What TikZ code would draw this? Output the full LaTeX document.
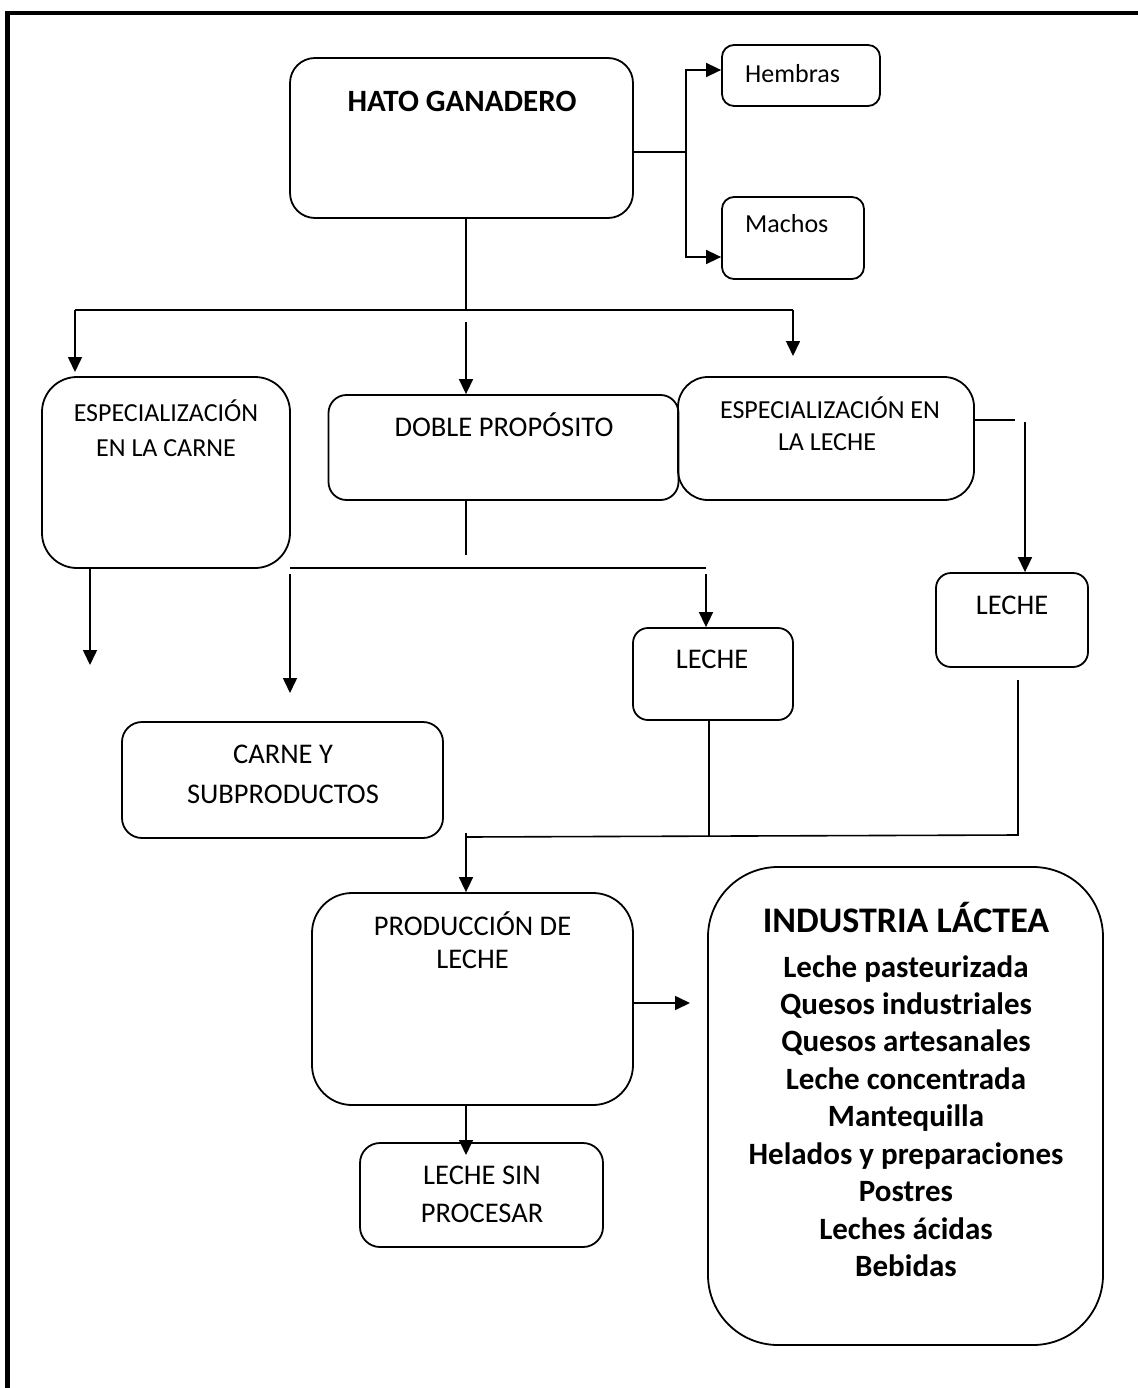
\documentclass[tikz,border=0pt]{standalone}
\usepackage{fontspec}
\setmainfont{Carlito}
\usetikzlibrary{arrows.meta,calc}
\begin{document}
\begin{tikzpicture}[x=1pt,y=-1pt,
  box/.style={draw,line width=1.8pt,inner sep=0pt},
  txt/.style={anchor=base,inner sep=0pt,font=\fontsize{26}{36}\selectfont},
  ltxt/.style={anchor=base,inner sep=0pt,font=\fontsize{28.5}{38}\selectfont},
  btxt/.style={anchor=base,inner sep=0pt,font=\fontsize{31}{37}\selectfont\bfseries},
  ln/.style={line width=1.6pt},
  arr/.style={line width=1.6pt,-{Triangle[length=15pt,width=14pt]}}]
\useasboundingbox (0,0) rectangle (1137,1388);
% frame
\draw[line width=4.5pt] (7.5,13) rectangle (1142,1390);

% boxes
\node[box,rounded corners=25pt,minimum width=343pt,minimum height=160pt] (hato) at (461.5,138) {};
\node[box,rounded corners=12pt,minimum width=158pt,minimum height=61pt] (hem) at (801,75.5) {};
\node[box,rounded corners=12pt,minimum width=142pt,minimum height=82pt] (mac) at (793,238) {};
\node[box,rounded corners=35pt,minimum width=248pt,minimum height=191pt] (ecar) at (166,472.5) {};
\node[box,rounded corners=18pt,minimum width=350pt,minimum height=105pt] (doble) at (503.5,447.5) {};
\node[box,rounded corners=30pt,minimum width=296pt,minimum height=123pt] (elec) at (826,438.5) {};
\node[box,rounded corners=15pt,minimum width=152pt,minimum height=94pt] (lecr) at (1012,620) {};
\node[box,rounded corners=15pt,minimum width=160pt,minimum height=92pt] (lecm) at (713,674) {};
\node[box,rounded corners=20pt,minimum width=321pt,minimum height=116pt] (carne) at (282.5,780) {};
\node[box,rounded corners=40pt,minimum width=321pt,minimum height=212pt] (prod) at (472.5,999) {};
\node[box,rounded corners=20pt,minimum width=243pt,minimum height=104pt] (sinp) at (481.5,1195) {};
\node[box,rounded corners=70pt,minimum width=395pt,minimum height=478pt] (ind) at (905.5,1106) {};

% texts
\node[btxt] (thato) at (462,112) {HATO GANADERO};
\node[txt,anchor=base west] (themb) at (745,83) {Hembras};
\node[txt,anchor=base west] (tmac) at (745,233) {Machos};
\node[txt] (tecar1) at (166,421.5) {ESPECIALIZACIÓN};
\node[txt] (tecar2) at (166,456) {EN LA CARNE};
\node[ltxt] (tdoble) at (504,436.5) {DOBLE PROPÓSITO};
\node[txt] (telec1) at (830,418) {ESPECIALIZACIÓN EN};
\node[txt] (telec2) at (827,450) {LA LECHE};
\node[ltxt] (tlecr) at (1012,614) {LECHE};
\node[ltxt] (tlecm) at (712,668) {LECHE};
\node[ltxt] (tcar1) at (283,763) {CARNE Y};
\node[ltxt] (tcar2) at (283,803) {SUBPRODUCTOS};
\node[ltxt] (tprod1) at (472.5,935) {PRODUCCIÓN DE};
\node[ltxt] (tprod2) at (472.5,968) {LECHE};
\node[ltxt] (tsin1) at (482,1184) {LECHE SIN};
\node[ltxt] (tsin2) at (482,1222) {PROCESAR};
\node[btxt,font=\fontsize{36}{40}\selectfont\bfseries] (tind) at (906,932) {INDUSTRIA LÁCTEA};
\node[btxt] (i1) at (906,977) {Leche pasteurizada};
\node[btxt] (i2) at (906,1014) {Quesos industriales};
\node[btxt] (i3) at (906,1051) {Quesos artesanales};
\node[btxt] (i4) at (906,1089) {Leche concentrada};
\node[btxt] (i5) at (906,1126) {Mantequilla};
\node[btxt] (i6) at (906,1164) {Helados y preparaciones};
\node[btxt] (i7) at (906,1201) {Postres};
\node[btxt] (i8) at (906,1239) {Leches ácidas};
\node[btxt] (i9) at (906,1276) {Bebidas};

% coordinates
\coordinate (hj) at (686,152);
\coordinate (hb) at (466,310);
\coordinate (bl) at (75,310);
\coordinate (br) at (793,310);
\coordinate (bla) at (75,372);
\coordinate (bra) at (793,356);
\coordinate (dtop) at (466,322);
\coordinate (ej) at (1015,420);
\coordinate (ev) at (1025,422);
\coordinate (dj) at (466,555);
\coordinate (hl) at (290,568);
\coordinate (hr) at (706,568);
\coordinate (cs) at (290,574);
\coordinate (ce) at (290,693);
\coordinate (ls) at (706,574);
\coordinate (ca) at (90,665);
\coordinate (mj) at (709,836);
\coordinate (rs) at (1018,680);
\coordinate (rj) at (1018,835);
\coordinate (pl) at (466,837);
\coordinate (ps) at (466,833);
\coordinate (pe) at (690,1003);
\coordinate (se) at (466,1155);

% connectors
\draw[ln] (hato.east |- hj) -- (hj);
\draw[arr] (hj) |- (hem.west |- 0,70);
\draw[arr] (hj) |- (mac.west |- 0,257);
\draw[ln] (hato.south -| hb) -- (hb);
\draw[ln] (bl) -- (br);
\draw[arr] (bl) -- (bla);
\draw[arr] (br) -- (bra);
\draw[arr] (dtop) -- (doble.north -| dtop);
\draw[ln] (elec.east |- ej) -- (ej);
\draw[arr] (ev) -- (lecr.north -| ev);
\draw[ln] (doble.south -| dj) -- (dj);
\draw[ln] (hl) -- (hr);
\draw[arr] (cs) -- (ce);
\draw[arr] (ls) -- (lecm.north -| ls);
\draw[arr] (ecar.south -| ca) -- (ca);
\draw[ln] (lecm.south -| mj) -- (mj);
\draw[ln] (rs) -- (rj) -- (pl);
\draw[arr] (ps) -- (prod.north -| ps);
\draw[arr] (prod.east |- pe) -- (pe);
\draw[arr] (prod.south -| se) -- (se);
\end{tikzpicture}
\end{document}
